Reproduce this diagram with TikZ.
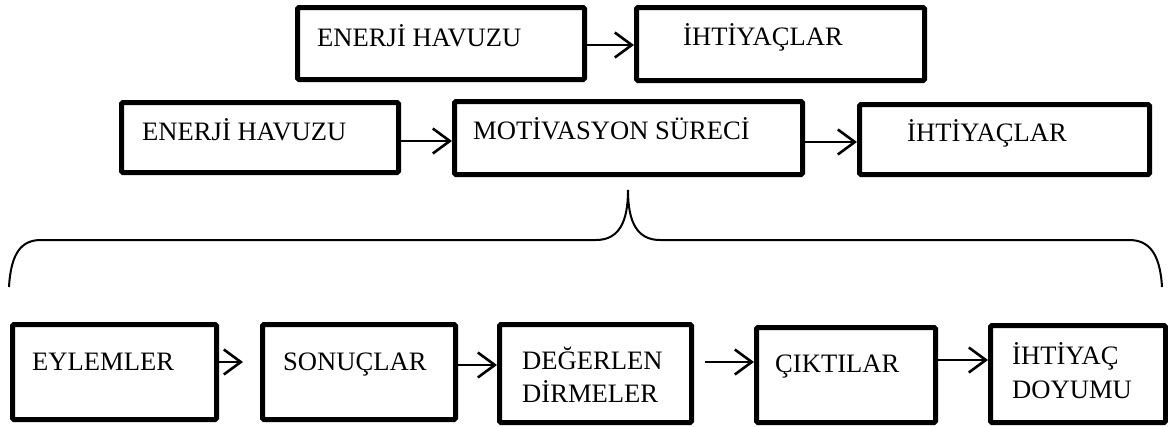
\documentclass[tikz,border=0pt]{standalone}
\usepackage{fontspec}
\setmainfont{Liberation Serif}
\usetikzlibrary{arrows.meta}
\begin{document}
\begin{tikzpicture}[x=1pt,y=-1pt,
  box/.style={draw,line width=5pt,rounded corners=1.5pt,inner sep=0pt,anchor=north west},
  txt/.style={anchor=base west,inner sep=0pt,font=\fontsize{26.6}{31}\selectfont},
  arr/.style={line width=2.6pt,-{Straight Barb[length=17pt,width=25pt,line width=2.6pt]}},
  brace/.style={line width=2pt}]
\useasboundingbox (0,0) rectangle (1168,426);
% row 1
\node[box,minimum width=287pt,minimum height=72pt] (A) at (295,5) {};
\node[box,minimum width=288pt,minimum height=73pt] (B) at (634,5) {};
\node[txt] (tA) at (317,46) {ENERJİ HAVUZU};
\node[txt] (tB) at (683,45) {İHTİYAÇLAR};
% row 2
\node[box,minimum width=277pt,minimum height=70pt] (C) at (119,100) {};
\node[box,minimum width=348pt,minimum height=73pt] (D) at (452,99) {};
\node[box,minimum width=290pt,minimum height=70pt] (E) at (857,102) {};
\node[txt] (tC) at (142,140) {ENERJİ HAVUZU};
\node[txt] (tD) at (473,139) {MOTİVASYON SÜRECİ};
\node[txt] (tE) at (907,141) {İHTİYAÇLAR};
% row 3
\node[box,minimum width=204pt,minimum height=95pt] (F) at (10,322) {};
\node[box,minimum width=193pt,minimum height=95pt] (G) at (260,322) {};
\node[box,minimum width=192pt,minimum height=98pt] (H) at (497,322) {};
\node[box,minimum width=179pt,minimum height=95pt] (I) at (754,325) {};
\node[box,minimum width=175pt,minimum height=97pt] (J) at (988,323) {};
\node[txt] (tF) at (32,370) {EYLEMLER};
\node[txt] (tG) at (283,370) {SONUÇLAR};
\node[txt] (tH1) at (522,369) {DEĞERLEN};
\node[txt] (tH2) at (522,402) {DİRMELER};
\node[txt] (tI) at (775,372) {ÇIKTILAR};
\node[txt] (tJ1) at (1012,364) {İHTİYAÇ};
\node[txt] (tJ2) at (1012,398) {DOYUMU};
% arrows
\draw[arr] (A.east |- 0,45) -- (B.west |- 0,45);
\draw[arr] (C.east |- 0,141) -- (D.west |- 0,141);
\draw[arr] (D.east |- 0,142) -- (E.west |- 0,142);
\draw[arr,shorten >=17pt] (F.east |- 0,362) -- (G.west |- 0,362);
\draw[arr] (G.east |- 0,365) -- (H.west |- 0,365);
\draw[arr,shorten <=11pt] (H.east |- 0,362) -- (I.west |- 0,362);
\draw[arr] (I.east |- 0,360) -- (J.west |- 0,360);
% brace
\coordinate (bl) at (9,287);
\coordinate (br) at (1162,287);
\coordinate (cusp) at (628,190);
\draw[brace] (bl) .. controls (11,252) and (22,240) .. (41,240) -- (596,240)
  .. controls (619,240) and (628,222) .. (cusp)
  .. controls (628,222) and (637,240) .. (660,240) -- (1129,240)
  .. controls (1148,240) and (1160,252) .. (br);
\end{tikzpicture}
\end{document}
